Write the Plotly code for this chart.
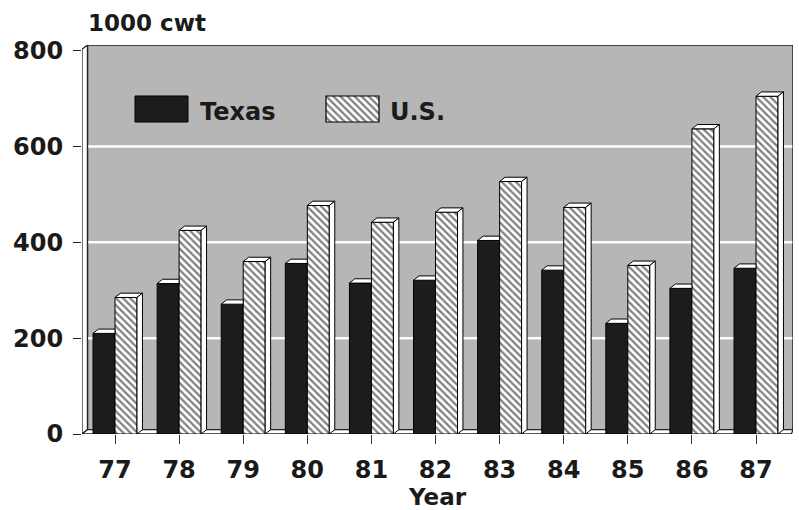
import plotly.graph_objects as go

# Production by year, thousand hundredweight
years = [77, 78, 79, 80, 81, 82, 83, 84, 85, 86, 87]
year_labels = ["77", "78", "79", "80", "81", "82", "83", "84", "85", "86", "87"]
texas = [210, 314, 271, 356, 315, 321, 404, 342, 231, 304, 346]
us = [285, 425, 360, 477, 442, 463, 527, 473, 352, 637, 705]
y_ticks = [0, 200, 400, 600, 800]

FONT = "DejaVu Sans"
X_MIN, X_MAX = 76.485, 87.577
Y_MAX = 812
BAR_W = 0.343
DX, DY = 0.085, 9.0          # depth of the pseudo-3D extrusion (data units)
WALL_GRAY = "#b6b6b6"
INK = "#1c1c1c"
HATCH = dict(shape="\\", size=5, solidity=0.45, fgcolor="black", bgcolor="white")

fig = go.Figure()

fig.add_trace(go.Bar(
    x=years, y=texas, name="Texas", width=BAR_W, offset=-BAR_W,
    marker=dict(color=INK, line=dict(color="black", width=1)),
    showlegend=False,
))
fig.add_trace(go.Bar(
    x=years, y=us, name="U.S.", width=BAR_W, offset=0,
    marker=dict(color="white", line=dict(color="black", width=1), pattern=HATCH),
    showlegend=False,
))

# Legend swatches on a small inset axis
fig.add_trace(go.Bar(
    x=[41.5], y=[0.62], base=[0.19], width=[53], xaxis="x2", yaxis="y2",
    marker=dict(color=INK, line=dict(color="black", width=1)),
    showlegend=False, hoverinfo="skip",
))
fig.add_trace(go.Bar(
    x=[232.5], y=[0.62], base=[0.19], width=[53], xaxis="x2", yaxis="y2",
    marker=dict(color="white", line=dict(color="black", width=1.2), pattern=HATCH),
    showlegend=False, hoverinfo="skip",
))

shapes = []
# back wall
shapes.append(dict(type="rect", xref="x", yref="y", layer="below",
                   x0=X_MIN + DX, x1=X_MAX, y0=DY, y1=Y_MAX,
                   fillcolor=WALL_GRAY, line=dict(color="#222", width=1.5)))
# grid lines on the back wall
for v in y_ticks[1:-1]:
    shapes.append(dict(type="line", xref="x", yref="y", layer="below",
                       x0=X_MIN + DX, x1=X_MAX - 0.01, y0=v, y1=v,
                       line=dict(color="white", width=2.5)))
# left wall
shapes.append(dict(type="path", xref="x", yref="y", layer="below",
                   path=f"M {X_MIN},0 L {X_MIN},{Y_MAX - DY} L {X_MIN + DX},{Y_MAX} "
                        f"L {X_MIN + DX},{DY} Z",
                   fillcolor="white", line=dict(color="#222", width=1.3)))
# floor
shapes.append(dict(type="path", xref="x", yref="y", layer="below",
                   path=f"M {X_MIN},0 L {X_MIN + DX},{DY} L {X_MAX},{DY} "
                        f"L {X_MAX - DX * 0.3},0 Z",
                   fillcolor="white", line=dict(color="#222", width=1.3)))

# extruded tops and sides of the bars
for yr, tv, uv in zip(years, texas, us):
    tx0, tx1 = yr - BAR_W, yr
    ux0, ux1 = yr, yr + BAR_W
    cap_end = tx1 if uv >= tv else tx1 + DX
    shapes.append(dict(type="path", xref="x", yref="y", layer="above",
                       path=f"M {tx0},{tv} L {tx0 + DX},{tv + DY} L {cap_end},{tv + DY} "
                            f"L {tx1},{tv} Z",
                       fillcolor="white", line=dict(color="black", width=1)))
    shapes.append(dict(type="path", xref="x", yref="y", layer="above",
                       path=f"M {ux0},{uv} L {ux0 + DX},{uv + DY} L {ux1 + DX},{uv + DY} "
                            f"L {ux1},{uv} Z",
                       fillcolor="white", line=dict(color="black", width=1)))
    shapes.append(dict(type="path", xref="x", yref="y", layer="above",
                       path=f"M {ux1},0 L {ux1},{uv} L {ux1 + DX},{uv + DY} "
                            f"L {ux1 + DX},{DY} Z",
                       fillcolor="white", line=dict(color="black", width=1)))

TXT = dict(family=FONT, color="#1a1a1a", weight="bold")
annotations = [
    dict(text="1000 cwt", xref="paper", yref="paper", x=0.006, y=1.056,
         xanchor="left", yanchor="middle", showarrow=False, font=dict(size=23, **TXT)),
    dict(text="Year", xref="paper", yref="paper", x=0.5, y=-0.162,
         xanchor="center", yanchor="middle", showarrow=False, font=dict(size=23, **TXT)),
    dict(text="Texas", xref="paper", yref="paper", x=0.163, y=0.829,
         xanchor="left", yanchor="middle", showarrow=False, font=dict(size=24, **TXT)),
    dict(text="U.S.", xref="paper", yref="paper", x=0.43, y=0.829,
         xanchor="left", yanchor="middle", showarrow=False, font=dict(size=24, **TXT)),
]

fig.update_layout(
    width=799, height=510,
    margin=dict(l=82, r=6, t=45, b=76),
    paper_bgcolor="white", plot_bgcolor="rgba(0,0,0,0)",
    barmode="overlay",
    shapes=shapes,
    annotations=annotations,
    xaxis=dict(
        range=[X_MIN, X_MAX], tickvals=years, ticktext=year_labels,
        showgrid=False, zeroline=False, showline=False,
        ticks="outside", ticklen=9, tickwidth=1, tickcolor="#333",
        ticklabelstandoff=5,
        tickfont=dict(size=24, **TXT),
    ),
    yaxis=dict(
        range=[0, Y_MAX], tickvals=y_ticks,
        showgrid=False, zeroline=False, showline=False,
        ticks="outside", ticklen=8, tickwidth=1.3, tickcolor="#222",
        ticklabelstandoff=5,
        tickfont=dict(size=24, **TXT),
    ),
    xaxis2=dict(domain=[(120 - 82) / 711, (460 - 82) / 711], range=[0, 340],
                anchor="y2", visible=False, fixedrange=True),
    yaxis2=dict(domain=[(434 - 130) / 389, (434 - 88) / 389], range=[0, 1],
                anchor="x2", visible=False, fixedrange=True),
)

fig.write_html("out.html")
